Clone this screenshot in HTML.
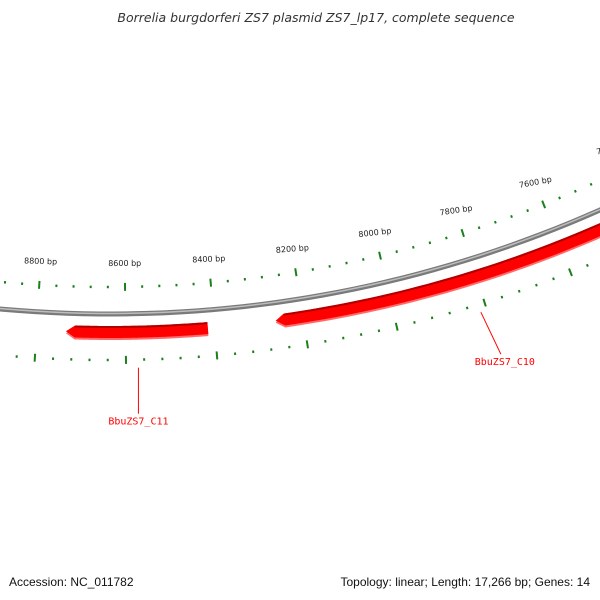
<!DOCTYPE html>
<html><head><meta charset="utf-8">
<style>
body{margin:0;background:#fff;}
svg{display:block;font-family:"Liberation Sans","DejaVu Sans",sans-serif;}
</style></head>
<body>
<svg id="map" width="600" height="600" viewBox="0 0 600 600">
<text x="316" y="22" text-anchor="middle" font-size="12.5" font-style="italic" fill="#333" font-family="'DejaVu Sans',sans-serif">Borrelia burgdorferi ZS7 plasmid ZS7_lp17, complete sequence</text>
<text x="9" y="586" font-size="12" fill="#111">Accession: NC_011782</text>
<text x="590" y="586" text-anchor="end" font-size="12" fill="#111">Topology: linear; Length: 17,266 bp; Genes: 14</text>
<g id="layer"></g>
</svg>
<script>
const seqLength = 17266;
const majorTicks = [7200, 7400, 7600, 7800, 8000, 8200, 8400, 8600, 8800, 9000];
const geneNames = ["BbuZS7_C10", "BbuZS7_C11"];
const geneStarts = [7000, 8415];
const geneEnds = [8262, 8734];
const geneLabelBp = [7814, 8573];

const cx = 110, cy = -892, zeroBp = 8635;
const R_BB = 1206, R_OUT = 1179, R_IN = 1252, R_GENE = 1224, R_LBL = 1158;
const NS = "http://www.w3.org/2000/svg";
const layer = document.getElementById('layer');
function ang(bp){ return (zeroBp - bp) * 2 * Math.PI / seqLength; }
function pt(bp, r){ const a = ang(bp); return [cx + r*Math.sin(a), cy + r*Math.cos(a)]; }
function mk(tag, attrs){ const e = document.createElementNS(NS, tag); for (const k in attrs) e.setAttribute(k, attrs[k]); layer.appendChild(e); return e; }
function arcPts(b1, b2, r){
  const out = []; const n = 60;
  for (let i = 0; i <= n; i++) { const p = pt(b1 + (b2 - b1) * i / n, r); out.push(p[0].toFixed(2) + ',' + p[1].toFixed(2)); }
  return out;
}
function arcPath(b1, b2, r){ return 'M' + arcPts(b1, b2, r).join(' L'); }
// backbone
const bb = mk('path', {d: arcPath(6900, 9100, R_BB), fill: 'none', stroke: '#7a7a7a', 'stroke-width': 5});


const bb2 = mk('path', {d: arcPath(6900, 9100, R_BB - 0.5), fill: 'none', stroke: '#bdbdbd', 'stroke-width': 1.5});


// ticks
for (let i = 0; i < majorTicks.length - 1; i++) {
  for (let j = 0; j < 5; j++) {
    const bp = majorTicks[i] + j * 40;
    const major = j === 0;
    const len = major ? 8 : 2.5;
    [R_OUT, R_IN].forEach((r, k) => {
      const a = pt(bp, r - len/2), b = pt(bp, r + len/2);
      const t = mk('line', {x1: a[0], y1: a[1], x2: b[0], y2: b[1], stroke: '#1a801a', 'stroke-width': 2});
      
      
    });
  }
  const bp = majorTicks[i];
  const p = pt(bp, R_LBL);
  const deg = -ang(bp) * 180 / Math.PI * 0.5;
  const lbl = mk('text', {x: p[0], y: p[1], 'text-anchor': 'middle', 'font-size': 8, fill: '#222', 'font-family': "'DejaVu Sans',sans-serif", transform: `rotate(${deg} ${p[0]} ${p[1]})`});
  lbl.textContent = bp + ' bp';
  
  
}
// genes
for (let g = 0; g < geneNames.length; g++) {
  const s = geneStarts[g], e = geneEnds[g];
  const rIn = R_GENE - 6, rOut = R_GENE + 6;
  const baseBp = e - 20;
  const tip = pt(e, R_GENE);
  const inner = arcPts(s, baseBp, rIn);
  const outer = arcPts(baseBp, s, rOut);
  const d = 'M' + inner.join(' L') + ` L${tip[0]},${tip[1]} L` + outer.join(' L') + ' Z';
  const sh = mk('path', {d: d, fill: '#ff6b6b', transform: 'translate(0,2)'});
  
  
  const body = mk('path', {d: d, fill: '#ff0000'});
  
  
  const edge = mk('path', {d: arcPath(s, baseBp, rIn + 1), fill: 'none', stroke: '#b00000', 'stroke-width': 2});
  
  
  const l1 = pt(geneLabelBp[g], R_IN + 8);
  const lx = l1[0], ly = l1[1];
  const ex = g === 0 ? lx + 20 : lx, ey = ly + (g === 0 ? 42 : 46);
  const ln = mk('line', {x1: lx, y1: ly, x2: ex, y2: ey, stroke: '#ff0000', 'stroke-width': 1});
  
  
  const tx = mk('text', {x: ex + (g === 0 ? 4 : 0), y: ey + 11, 'text-anchor': 'middle', 'font-size': 10, fill: '#ff0000', 'font-family': '"DejaVu Sans Mono","Liberation Mono",monospace'});
  tx.textContent = geneNames[g];
  
  
}
</script>
</body></html>
